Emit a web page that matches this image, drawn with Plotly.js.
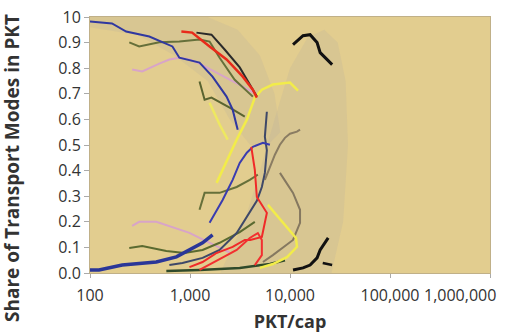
<!DOCTYPE html>
<html><head><meta charset="utf-8">
<script src="https://cdn.plot.ly/plotly-3.0.1.min.js"></script>
<style>html,body{margin:0;padding:0;background:#fff}#chart{width:514px;height:336px}</style>
</head><body><div id="chart"></div>
<script>
// axis ticks
const xTickVals = [100, 1000, 10000, 100000, 1000000];
const xTickText = ["100", "1,000", "10,000", "100,000", ""];
const xLastLabel = "1,000,000";
const yTickVals = [0, 0.1, 0.2, 0.3, 0.4, 0.5, 0.6, 0.7, 0.8, 0.9, 1.0];
const yTickText = ["0.0", "0.1", "0.2", "0.3", "0.4", "0.5", "0.6", "0.7", "0.8", "0.9", "10"];

// shaded bands (declining and rising regions)
const bandDownX = [100, 1500, 3000, 5000, 7000, 8000, 6000, 4000, 2500, 1500, 700, 300, 100];
const bandDownY = [1.0, 1.0, 0.95, 0.85, 0.7, 0.55, 0.5, 0.5, 0.6, 0.75, 0.85, 0.93, 0.96];
const bandUpX = [2000, 3500, 5000, 7000, 10000, 15000, 22000, 30000, 36000, 38000, 34000, 26000];
const bandUpY = [0.0, 0.2, 0.4, 0.6, 0.8, 0.92, 0.95, 0.9, 0.75, 0.5, 0.2, 0.0];

// declining lines
const blueDownX = [100, 166, 230, 392, 667, 783, 1245, 1680, 2320, 2670, 3000];
const blueDownY = [0.982, 0.975, 0.943, 0.924, 0.885, 0.841, 0.822, 0.767, 0.689, 0.638, 0.560];
const pinkDownX = [264, 333, 493, 622, 783, 988, 1245, 1763, 2493, 3530, 4660];
const pinkDownY = [0.795, 0.787, 0.818, 0.834, 0.841, 0.834, 0.818, 0.787, 0.755, 0.724, 0.697];
const oliveDownAX = [247, 310, 493, 783, 1245, 1570, 1977, 2800, 4250];
const oliveDownAY = [0.901, 0.885, 0.901, 0.904, 0.912, 0.904, 0.841, 0.755, 0.689];
const oliveDownBX = [1245, 1400, 1640, 1977, 2493, 3530];
const oliveDownBY = [0.748, 0.677, 0.685, 0.669, 0.646, 0.611];
const redDownX = [820, 1050, 1570, 2320, 3370, 4250, 4660];
const redDownY = [0.943, 0.939, 0.885, 0.834, 0.767, 0.716, 0.685];
const darkDownX = [1160, 1640, 2220, 3142, 3963, 4660];
const darkDownY = [0.939, 0.931, 0.873, 0.803, 0.736, 0.689];
const yellowDownX = [1570, 1977, 2380];
const yellowDownY = [0.665, 0.580, 0.521];
const blackTopX = [10720, 13500, 15890, 18660, 20030, 23560, 26400];
const blackTopY = [0.892, 0.927, 0.931, 0.900, 0.861, 0.834, 0.814];

// rising lines
const blueLowX = [100, 123, 210, 460, 731, 988, 1336, 1683];
const blueLowY = [0.012, 0.012, 0.031, 0.043, 0.063, 0.090, 0.118, 0.149];
const blueUpX = [1570, 2120, 2670, 3142, 3700, 4250, 5360, 6292];
const blueUpY = [0.196, 0.285, 0.364, 0.430, 0.470, 0.493, 0.509, 0.501];
const slateUpX = [622, 841, 1336, 1977, 2930, 3700, 4660, 5230, 5605, 5870, 5605, 5870];
const slateUpY = [0.031, 0.039, 0.059, 0.090, 0.156, 0.219, 0.282, 0.336, 0.391, 0.479, 0.532, 0.630];
const yellowUpX = [1845, 2930, 3700, 4448, 5230, 6740, 9990, 12030];
const yellowUpY = [0.352, 0.521, 0.599, 0.685, 0.716, 0.736, 0.744, 0.712];
const yellowLowX = [6010, 8510, 11480, 11740, 9330, 6740, 4992];
const yellowLowY = [0.266, 0.196, 0.137, 0.102, 0.062, 0.035, 0.020];
const redUpAX = [988, 1336, 1840, 2670, 3530, 4000, 5230, 5870, 4660, 4448, 4100];
const redUpAY = [0.023, 0.043, 0.078, 0.102, 0.129, 0.129, 0.141, 0.235, 0.297, 0.403, 0.493];
const redUpBX = [1245, 1763, 2930, 3963, 4770, 5230, 5230, 4448];
const redUpBY = [0.012, 0.043, 0.090, 0.137, 0.156, 0.129, 0.070, 0.031];
const oliveUpAX = [1245, 1400, 1977, 2930, 3963, 4770];
const oliveUpAY = [0.247, 0.313, 0.313, 0.336, 0.364, 0.384];
const oliveLowX = [247, 333, 580, 880, 1336, 1977, 3142, 4448];
const oliveLowY = [0.098, 0.105, 0.086, 0.078, 0.090, 0.118, 0.160, 0.200];
const pinkLowX = [264, 310, 460, 667, 988, 1245, 1763, 2493];
const pinkLowY = [0.184, 0.200, 0.200, 0.180, 0.157, 0.137, 0.110, 0.080];
const greyUpX = [5605, 6292, 7063, 7927, 8900, 9990, 11740, 12600];
const greyUpY = [0.364, 0.415, 0.462, 0.501, 0.528, 0.544, 0.552, 0.560];
const greyLowX = [7930, 10720, 12600, 12600, 10720, 8510, 6740, 5360];
const greyLowY = [0.391, 0.313, 0.247, 0.196, 0.129, 0.098, 0.070, 0.043];
const greenBottomX = [580, 1245, 3142, 6292, 8900];
const greenBottomY = [0.008, 0.012, 0.020, 0.035, 0.050];
const blackLowX = [10720, 13500, 15890, 18660, 20030, 24100];
const blackLowY = [0.012, 0.020, 0.031, 0.059, 0.090, 0.137];
const blackTailX = [21250, 26400];
const blackTailY = [0.039, 0.031];

function band(x, y) {
  return {x: x, y: y, mode: 'lines', fill: 'toself', fillcolor: 'rgba(180,175,160,0.22)',
          line: {width: 0}, hoverinfo: 'skip', showlegend: false};
}
function ln(x, y, color, w) {
  return {x: x, y: y, mode: 'lines', line: {color: color, width: w || 2, shape: 'linear'},
          showlegend: false, hoverinfo: 'skip'};
}

const traces = [
  band(bandDownX, bandDownY),
  band(bandUpX, bandUpY),
  ln(greenBottomX, greenBottomY, '#2f4a2a', 2.5),
  ln(pinkDownX, pinkDownY, '#d8a4c8'),
  ln(pinkLowX, pinkLowY, '#d8a4c8'),
  ln(oliveDownAX, oliveDownAY, '#66703a'),
  ln(oliveDownBX, oliveDownBY, '#5a6430'),
  ln(oliveUpAX, oliveUpAY, '#66703a'),
  ln(oliveLowX, oliveLowY, '#5a6a30'),
  ln(greyUpX, greyUpY, '#8a7c62'),
  ln(greyLowX, greyLowY, '#857860'),
  ln(yellowDownX, yellowDownY, '#eee860', 2.5),
  ln(yellowUpX, yellowUpY, '#f2ec4a', 2.5),
  ln(yellowLowX, yellowLowY, '#f2ec4a', 2.5),
  ln(slateUpX, slateUpY, '#3e4868'),
  ln(blueDownX, blueDownY, '#3038a0'),
  ln(blueLowX, blueLowY, '#2a3698', 3.5),
  ln(blueUpX, blueUpY, '#3a3cb0'),
  ln(darkDownX, darkDownY, '#2a2a2a'),
  ln(redDownX, redDownY, '#e82a1a', 2.5),
  ln(redUpAX, redUpAY, '#f02a28'),
  ln(redUpBX, redUpBY, '#f23030'),
  ln(blackTopX, blackTopY, '#111111', 3),
  ln(blackLowX, blackLowY, '#111111', 3),
  ln(blackTailX, blackTailY, '#111111', 2.5)
];

const layout = {
  width: 514, height: 336,
  margin: {l: 90, r: 24, t: 17, b: 63},
  paper_bgcolor: '#ffffff',
  plot_bgcolor: '#e2cd8f',
  showlegend: false,
  font: {family: 'Open Sans, sans-serif', color: '#333'},
  xaxis: {
    type: 'log', range: [2, 6],
    tickvals: xTickVals, ticktext: xTickText,
    tickfont: {size: 16, color: '#333'},
    ticks: 'outside', ticklen: 4, tickcolor: '#aaa', ticklabelstandoff: 4,
    showgrid: false, zeroline: false,
    showline: true, mirror: true, linecolor: '#c0b088', linewidth: 1,
    title: {text: '<b>PKT/cap</b>', font: {size: 18, color: '#333'}, standoff: 10}
  },
  yaxis: {
    range: [0, 1],
    tickvals: yTickVals, ticktext: yTickText,
    tickfont: {size: 16, color: '#333'},
    ticks: 'outside', ticklen: 5, tickcolor: '#aaa',
    showgrid: false, zeroline: false,
    showline: true, mirror: true, linecolor: '#c0b088', linewidth: 1
  },
  annotations: [{
    text: '<b>Share of Transport Modes in PKT</b>', textangle: -90,
    xref: 'paper', yref: 'paper', x: -0.195, y: 0.41, xanchor: 'center', yanchor: 'middle',
    showarrow: false, font: {size: 19, color: '#333'}
  }, {
    text: xLastLabel, xref: 'x', yref: 'paper', x: 6, y: 0, xanchor: 'right', yanchor: 'top',
    xshift: 8, yshift: -9, showarrow: false, font: {size: 16, color: '#333'}
  }]
};

Plotly.newPlot('chart', traces, layout, {staticPlot: true, displayModeBar: false});
</script></body></html>
